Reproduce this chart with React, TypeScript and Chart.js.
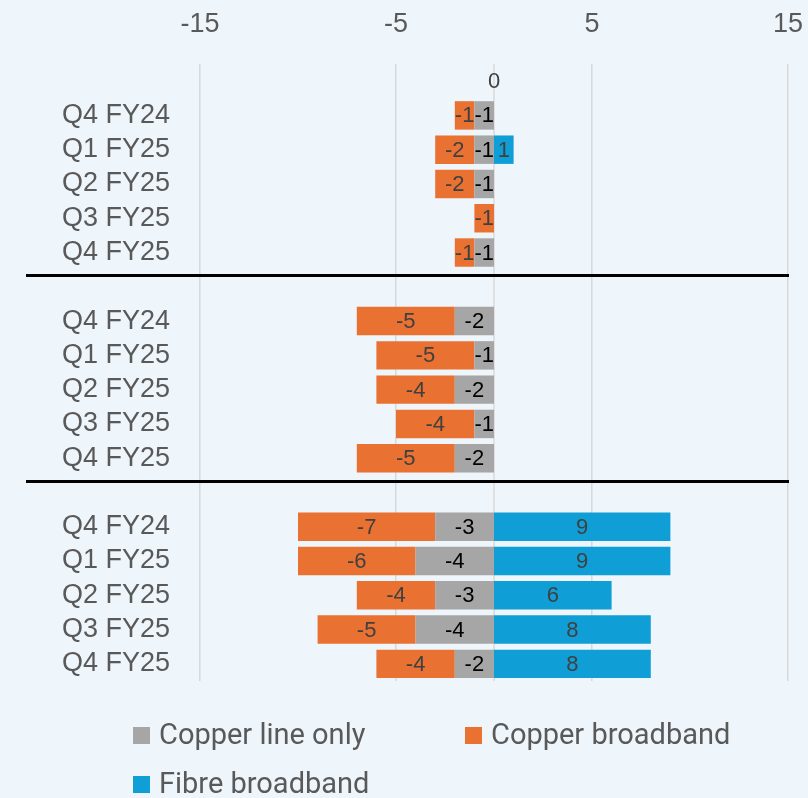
import React, { useEffect, useRef } from "react";
import { Chart, registerables } from "chart.js";

Chart.register(...registerables);

const categories = [
  "", "Q4 FY24", "Q1 FY25", "Q2 FY25", "Q3 FY25", "Q4 FY25",
  "", "Q4 FY24", "Q1 FY25", "Q2 FY25", "Q3 FY25", "Q4 FY25",
  "", "Q4 FY24", "Q1 FY25", "Q2 FY25", "Q3 FY25", "Q4 FY25",
];
const copperLineOnly = [
  null, -1, -1, -1, null, -1,
  null, -2, -1, -2, -1, -2,
  null, -3, -4, -3, -4, -2,
];
const copperBroadband = [
  null, -1, -2, -2, -1, -1,
  null, -5, -5, -4, -4, -5,
  null, -7, -6, -4, -5, -4,
];
const fibreBroadband = [
  0, null, 1, null, null, null,
  null, null, null, null, null, null,
  null, 9, 9, 6, 8, 8,
];
const seriesNames = ["Copper line only", "Copper broadband", "Fibre broadband"];
const separatorsAfter = [5, 11];
const xMin = -15;
const xMax = 15;
const xStep = 10;

const COLORS = ["#A6A6A6", "#E97132", "#0F9ED5"];
const LABEL_COLORS = ["#000000", "#404040", "#404040"];
const BG = "#EEF5FB";
const AXIS_TEXT = "#595959";
const FONT = "'Liberation Sans', Arial, sans-serif";

const decorPlugin = {
  id: "decor",
  beforeDatasetsDraw(chart: any) {
    const { ctx, chartArea, scales } = chart;
    const x0 = scales.x.getPixelForValue(0);
    ctx.save();
    ctx.strokeStyle = "#D9D9D9";
    ctx.lineWidth = 1.5;
    ctx.beginPath();
    ctx.moveTo(x0, chartArea.top);
    ctx.lineTo(x0, chartArea.bottom);
    ctx.stroke();
    ctx.restore();
  },
  afterDatasetsDraw(chart: any) {
    const { ctx, chartArea, scales } = chart;
    ctx.save();
    ctx.font = `22px ${FONT}`;
    ctx.textAlign = "center";
    ctx.textBaseline = "middle";
    chart.data.datasets.forEach((ds: any, di: number) => {
      const meta = chart.getDatasetMeta(di);
      meta.data.forEach((el: any, i: number) => {
        const v = ds.data[i];
        if (v === null || v === undefined) return;
        const cx = (el.x + el.base) / 2;
        ctx.fillStyle = LABEL_COLORS[di];
        ctx.fillText(String(v), cx, el.y + 1);
      });
    });
    ctx.strokeStyle = "#000000";
    ctx.lineWidth = 3;
    separatorsAfter.forEach((idx) => {
      const y = Math.round(scales.y.getPixelForValue(idx + 0.67)) + 0.5;
      ctx.beginPath();
      ctx.moveTo(26, y);
      ctx.lineTo(chartArea.right + 1, y);
      ctx.stroke();
    });
    ctx.restore();
  },
  afterDraw(chart: any) {
    const { ctx } = chart;
    const slots = [
      { x: 133, y: 736 },
      { x: 465, y: 736 },
      { x: 133, y: 785 },
    ];
    ctx.save();
    ctx.font = `29px Roboto, ${FONT}`;
    ctx.textAlign = "left";
    ctx.textBaseline = "middle";
    chart.data.datasets.forEach((ds: any, i: number) => {
      const s = slots[i];
      ctx.fillStyle = ds.backgroundColor;
      ctx.fillRect(s.x, s.y - 9, 17, 17);
      ctx.fillStyle = AXIS_TEXT;
      ctx.fillText(ds.label, s.x + 26, s.y + 1);
    });
    ctx.restore();
  },
};

export default function App() {
  const ref = useRef<HTMLCanvasElement>(null);
  useEffect(() => {
    document.body.style.margin = "0";
    document.body.style.background = BG;
    const chart = new Chart(ref.current as HTMLCanvasElement, {
      type: "bar",
      data: {
        labels: categories,
        datasets: [copperLineOnly, copperBroadband, fibreBroadband].map((d, i) => ({
          label: seriesNames[i],
          data: d,
          backgroundColor: COLORS[i],
          borderWidth: 0,
          barPercentage: 0.83,
          categoryPercentage: 1,
        })),
      },
      options: {
        indexAxis: "y",
        responsive: false,
        animation: false,
        layout: { padding: { left: 0, right: 20, top: 0, bottom: 117 } },
        plugins: {
          legend: { display: false },
          tooltip: { enabled: false },
        },
        scales: {
          x: {
            position: "top",
            stacked: true,
            min: xMin,
            max: xMax,
            ticks: {
              stepSize: xStep,
              color: AXIS_TEXT,
              font: { family: FONT, size: 27 },
              padding: 23,
            },
            grid: { color: "#D9D9D9", lineWidth: 1.5, drawTicks: false },
            border: { display: false },
            afterFit(scale: any) {
              scale.height = 64;
              scale.paddingLeft = 0;
              scale.paddingRight = 0;
            },
          },
          y: {
            stacked: true,
            ticks: {
              color: AXIS_TEXT,
              font: { family: FONT, size: 27 },
              padding: 30,
              autoSkip: false,
            },
            grid: { display: false, drawTicks: false },
            border: { display: false },
            afterFit(scale: any) {
              scale.width = 200;
            },
          },
        },
      },
      plugins: [decorPlugin],
    } as any);
    return () => chart.destroy();
  }, []);
  return (
    <div style={{ width: 808, height: 798, background: BG }}>
      <canvas ref={ref} width={808} height={798} style={{ display: "block" }} />
    </div>
  );
}
